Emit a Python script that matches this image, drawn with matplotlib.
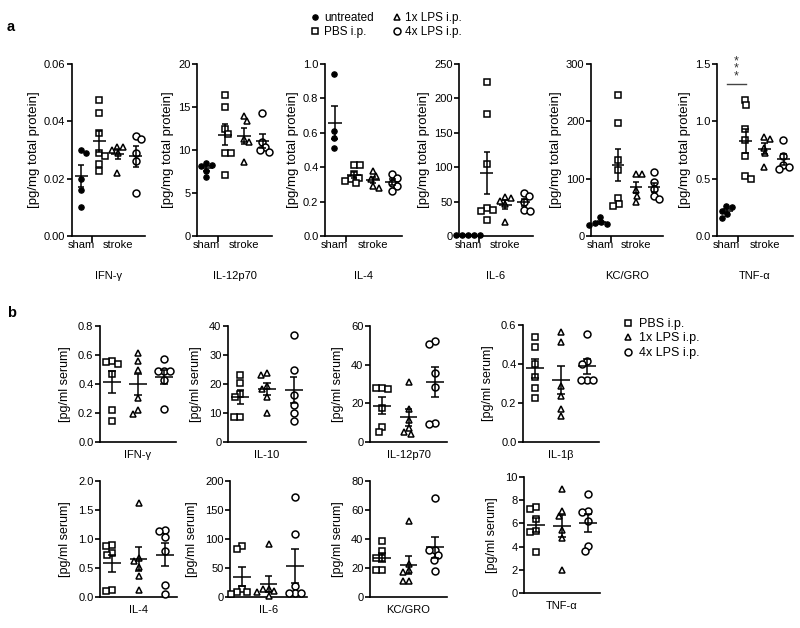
import numpy as np
import matplotlib
matplotlib.use('Agg')
import matplotlib.pyplot as plt
from matplotlib.lines import Line2D

plt.rcParams['font.family'] = ['Liberation Sans', 'DejaVu Sans']

# ---------------- data: panel a (brain, pg/mg total protein) ----------------
a_titles = ['IFN-γ', 'IL-12p70', 'IL-4', 'IL-6', 'KC/GRO', 'TNF-α']
a_groups = ['untreated', 'PBS i.p.', '1x LPS i.p.', '4x LPS i.p.']
a_xcats = ['sham', 'stroke']

a_IFNg = [[0.030, 0.029, 0.020, 0.016, 0.010],
          [0.0475, 0.043, 0.036, 0.029, 0.028, 0.025, 0.0227],
          [0.031, 0.031, 0.030, 0.029, 0.022],
          [0.035, 0.034, 0.029, 0.026, 0.015]]
a_IL12 = [[8.5, 8.3, 8.1, 7.6, 6.9],
          [16.4, 15.0, 12.5, 11.9, 9.7, 9.7, 7.1],
          [14.0, 13.4, 11.3, 10.9, 8.6],
          [14.3, 10.9, 10.3, 10.0, 9.8]]
a_IL4 = [[0.94, 0.61, 0.57, 0.51],
         [0.41, 0.41, 0.36, 0.34, 0.33, 0.32, 0.31],
         [0.38, 0.35, 0.33, 0.29, 0.28],
         [0.36, 0.34, 0.31, 0.29, 0.26]]
a_IL6 = [[1.5, 1.0, 1.2, 0.8, 1.3],
         [224, 177, 105, 40, 38, 36, 23],
         [56, 55, 51, 46, 20],
         [62, 58, 50, 38, 37]]
a_KC = [[34, 24, 22, 21, 20],
        [246, 197, 133, 115, 66, 56, 53],
        [108, 108, 80, 70, 60],
        [111, 95, 82, 70, 65]]
a_TNF = [[0.26, 0.25, 0.22, 0.19, 0.16],
         [1.19, 1.14, 0.93, 0.84, 0.70, 0.52, 0.50],
         [0.86, 0.85, 0.77, 0.72, 0.60],
         [0.84, 0.70, 0.62, 0.60, 0.58]]
a_data = [a_IFNg, a_IL12, a_IL4, a_IL6, a_KC, a_TNF]
a_ymax = [0.06, 20, 1.0, 250, 300, 1.5]
a_ystep = [0.02, 5, 0.2, 50, 100, 0.5]
a_yfmt = ['{:.2f}', '{:.0f}', '{:.1f}', '{:.0f}', '{:.0f}', '{:.1f}']
a_ylabel = '[pg/mg total protein]'

# ---------------- data: panel b (serum, pg/ml) ----------------
b_titles = ['IFN-γ', 'IL-10', 'IL-12p70', 'IL-1β', 'IL-4', 'IL-6', 'KC/GRO', 'TNF-α']
b_groups = ['PBS i.p.', '1x LPS i.p.', '4x LPS i.p.']

b_IFNg = [[0.556, 0.552, 0.54, 0.471, 0.223, 0.143],
          [0.616, 0.556, 0.494, 0.306, 0.218, 0.195],
          [0.575, 0.49, 0.49, 0.49, 0.425, 0.23]]
b_IL10 = [[23.2, 20.3, 16.6, 15.6, 8.7, 8.7],
          [23.8, 23.2, 19.4, 18.2, 15.6, 9.9],
          [36.9, 24.9, 16.2, 12.8, 10.1, 7.3]]
b_IL12 = [[27.8, 27.8, 27.3, 17.5, 7.7, 5.0],
          [31.2, 17.0, 11.5, 7.2, 5.0, 4.3],
          [52.3, 50.9, 35.8, 28.3, 9.8, 9.3]]
b_IL1b = [[0.54, 0.489, 0.40, 0.331, 0.279, 0.228],
          [0.562, 0.511, 0.286, 0.237, 0.171, 0.134],
          [0.552, 0.417, 0.40, 0.32, 0.32, 0.32]]
b_IL4 = [[0.893, 0.882, 0.767, 0.72, 0.115, 0.098],
         [1.614, 0.68, 0.617, 0.519, 0.363, 0.115],
         [1.153, 1.141, 1.026, 0.795, 0.202, 0.058]]
b_IL6 = [[88.2, 83.6, 14.4, 8.6, 8.6, 4.6],
         [91.0, 14.4, 13.0, 9.8, 8.6, 1.2],
         [172.9, 108.4, 18.4, 6.9, 6.9, 6.9]]
b_KC = [[38.7, 31.6, 27.2, 27.2, 18.9, 18.9],
        [52.3, 23.0, 18.4, 17.3, 10.8, 10.8],
        [68.5, 32.3, 32.3, 28.8, 25.8, 17.8]]
b_TNF = [[7.41, 7.27, 6.41, 5.37, 5.26, 3.5],
         [8.97, 7.04, 6.61, 5.4, 4.74, 2.01],
         [8.56, 7.04, 6.95, 6.18, 4.02, 3.59]]
b_data = [b_IFNg, b_IL10, b_IL12, b_IL1b, b_IL4, b_IL6, b_KC, b_TNF]
b_ymax = [0.8, 40, 60, 0.6, 2.0, 200, 80, 10]
b_ystep = [0.2, 10, 20, 0.2, 0.5, 50, 20, 2]
b_yfmt = ['{:.1f}', '{:.0f}', '{:.0f}', '{:.1f}', '{:.1f}', '{:.0f}', '{:.0f}', '{:.0f}']
b_ylabel = '[pg/ml serum]'

# ---------------- layout (pixels) ----------------
W, H = 800, 628
fig = plt.figure(figsize=(W / 100, H / 100), dpi=100)

a_boxes = [(72, 64, 145, 236), (197, 64, 272, 236), (325, 64, 402, 236),
           (459, 64, 533, 236), (591, 64, 663, 236), (717, 64, 793, 236)]
b_boxes = [(100, 326, 176, 442), (228, 326, 306, 442), (370, 326, 447, 442),
           (523, 325, 599, 442), (100, 481, 177, 597), (230, 481, 307, 597),
           (370, 481, 447, 597), (524, 477, 600, 593)]

a_styles = [dict(marker='o', ms=3.9, mfc='black', mec='black', mew=0.8),
            dict(marker='s', ms=4.4, mfc='white', mec='black', mew=1.1),
            dict(marker='^', ms=4.6, mfc='white', mec='black', mew=1.1),
            dict(marker='o', ms=5.0, mfc='white', mec='black', mew=1.1)]
b_styles = a_styles[1:]


def add_box(l, t, r, b):
    return fig.add_axes([l / W, 1 - b / H, (r - l) / W, (b - t) / H])


def swarm(vals, ypx, xpx, d):
    vals = np.asarray(vals, float)
    order = np.argsort(-vals, kind='stable')
    placed = []
    off = np.zeros(len(vals))
    cands = sorted(np.arange(-4 * d, 4 * d + 0.01, 0.5), key=lambda c: (abs(c), c))
    for i in order:
        y = vals[i] * ypx
        for c in cands:
            if all((c - px) ** 2 + (y - py) ** 2 >= d * d for px, py in placed):
                break
        placed.append((c, y))
        off[i] = c / xpx
    return off


def style_axis(ax, ymax, ystep, fmt):
    for s in ['top', 'right']:
        ax.spines[s].set_visible(False)
    for s in ['left', 'bottom']:
        ax.spines[s].set_linewidth(1.2)
    ax.set_ylim(0, ymax)
    ticks = np.arange(0, ymax + ystep * 0.5, ystep)
    ax.set_yticks(ticks)
    ax.set_yticklabels([fmt.format(t) for t in ticks])
    ax.tick_params(axis='y', direction='out', length=3.5, width=1.2, labelsize=8, pad=1.2)


def draw_groups(ax, groups, styles, ymax, xlim, wpx, hpx, wmean, wcap, d):
    xpx = wpx / (xlim[1] - xlim[0])
    ypx = hpx / ymax
    for gi, vals in enumerate(groups):
        off = swarm(vals, ypx, xpx, d)
        ax.plot(gi + off, vals, linestyle='none', clip_on=False, zorder=3, **styles[gi])
        v = np.asarray(vals, float)
        m = v.mean()
        s = v.std(ddof=1) / np.sqrt(len(v))
        kw = dict(color='black', lw=1.1, zorder=4, solid_capstyle='butt')
        ax.plot([gi - wmean, gi + wmean], [m, m], **kw)
        ax.plot([gi, gi], [m - s, m + s], **kw)
        ax.plot([gi - wcap, gi + wcap], [m + s, m + s], **kw)
        ax.plot([gi - wcap, gi + wcap], [m - s, m - s], **kw)


# ---------------- panel a ----------------
for i, (bx, groups) in enumerate(zip(a_boxes, a_data)):
    ax = add_box(*bx)
    style_axis(ax, a_ymax[i], a_ystep[i], a_yfmt[i])
    xlim = (-0.5, 3.5)
    ax.set_xlim(*xlim)
    draw_groups(ax, groups, a_styles, a_ymax[i], xlim, bx[2] - bx[0], bx[3] - bx[1],
                0.36, 0.17, 5.8)
    ax.set_xticks([0.6])
    ax.set_xticklabels([''])
    ax.tick_params(axis='x', which='major', direction='out', length=4, width=1.2)
    ax.set_xticks([0, 2], minor=True)
    ax.set_xticklabels(a_xcats, minor=True)
    ax.tick_params(axis='x', which='minor', length=0, labelsize=8, pad=3)
    ax.set_ylabel(a_ylabel, fontsize=9.5, labelpad=3)
    ax.annotate(a_titles[i], xy=(0.5, 0), xycoords='axes fraction',
                xytext=(0, -40 * 0.72), textcoords='offset points',
                ha='center', va='center', fontsize=8)
    if i == 5:
        ax.plot([0, 1], [1.325, 1.325], color='#444444', lw=1.0, clip_on=False)
        ax.text(0.5, 1.34, '*\n*\n*', ha='center', va='bottom', fontsize=9,
                linespacing=0.5, color='#333333')

# ---------------- panel b ----------------
for i, (bx, groups) in enumerate(zip(b_boxes, b_data)):
    ax = add_box(*bx)
    style_axis(ax, b_ymax[i], b_ystep[i], b_yfmt[i])
    xlim = (-0.46, 2.46)
    ax.set_xlim(*xlim)
    draw_groups(ax, groups, b_styles, b_ymax[i], xlim, bx[2] - bx[0], bx[3] - bx[1],
                0.33, 0.14, 6.0)
    ax.set_xticks([])
    ax.set_ylabel(b_ylabel, fontsize=9, labelpad=5)
    ax.annotate(b_titles[i], xy=(0.5, 0), xycoords='axes fraction',
                xytext=(0, -13 * 0.72), textcoords='offset points',
                ha='center', va='center', fontsize=8)

# ---------------- legends ----------------
def proxy(st):
    return Line2D([], [], linestyle='none', **st)

fig.legend([proxy(s) for s in a_styles], a_groups, ncol=2, frameon=False,
           loc='upper left', bbox_to_anchor=(311 / W, 1 - 12 / H), fontsize=8.5,
           handlelength=0.7, handletextpad=0.4, labelspacing=0.2,
           columnspacing=1.6, borderpad=0, borderaxespad=0)
fig.legend([proxy(s) for s in b_styles], b_groups, ncol=1, frameon=False,
           loc='upper left', bbox_to_anchor=(624 / W, 1 - 318 / H), fontsize=9,
           handlelength=0.7, handletextpad=0.5, labelspacing=0.2,
           borderpad=0, borderaxespad=0)

fig.text(7 / W, 1 - 27 / H, 'a', fontsize=10.5, fontweight='bold', va='center')
fig.text(7 / W, 1 - 313 / H, 'b', fontsize=10.5, fontweight='bold', va='center')

fig.savefig('out.png', dpi=100)
